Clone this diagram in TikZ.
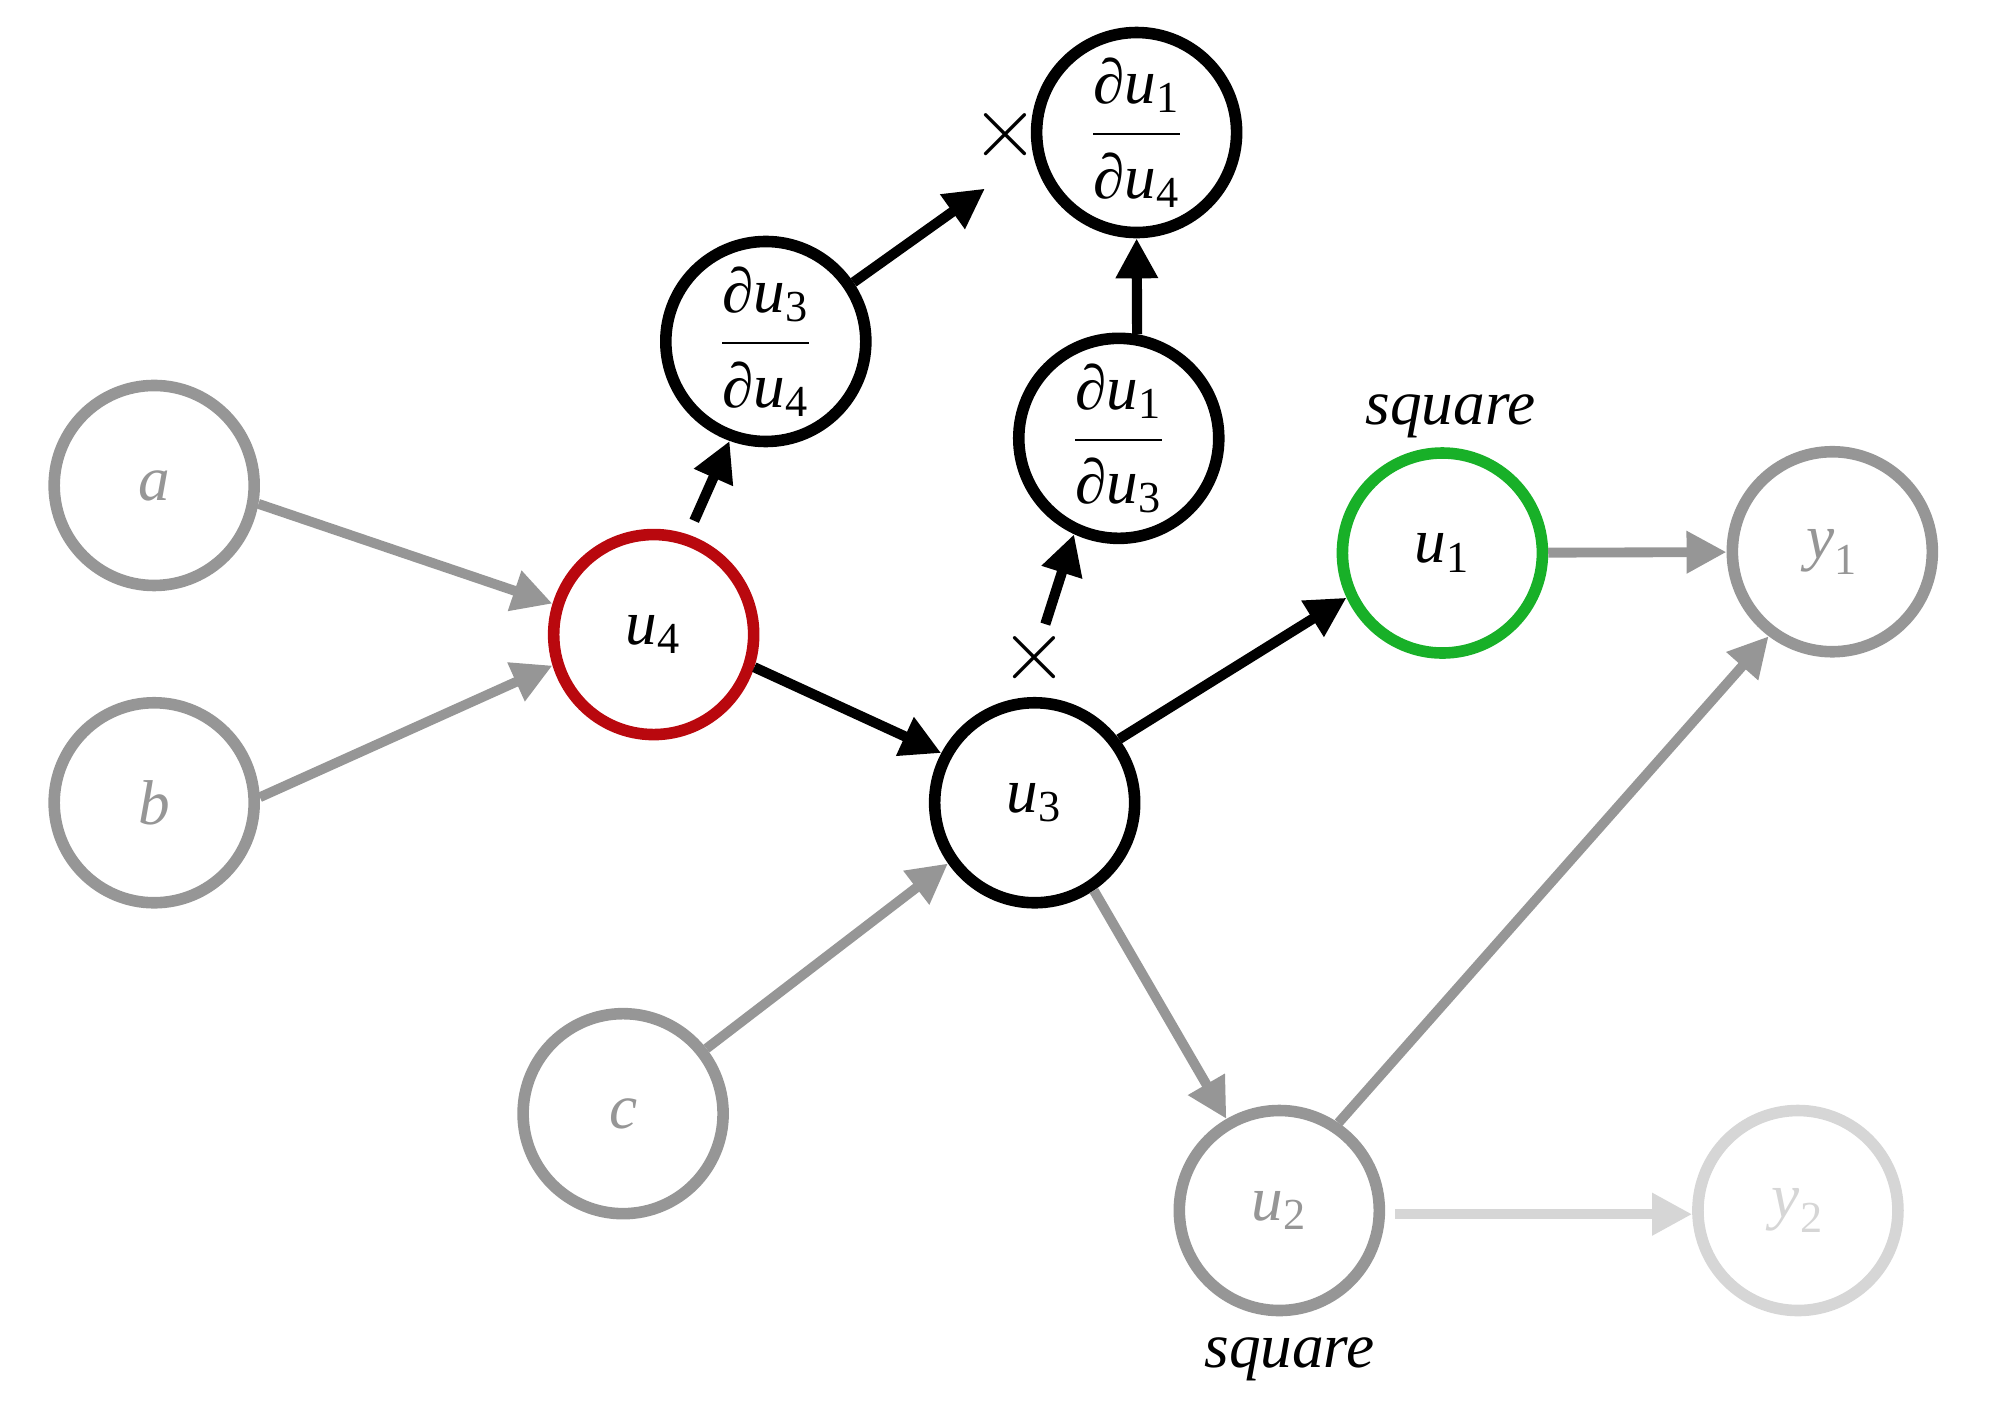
\documentclass[tikz,border=0pt]{standalone}
\usepackage{amsmath}
\usepackage{fontspec}
\setmainfont{Liberation Serif}
\usetikzlibrary{positioning,arrows.meta}

\definecolor{nodegray}{RGB}{150,150,150}
\definecolor{fadegray}{RGB}{214,214,214}
\definecolor{seedred}{RGB}{185,8,14}
\definecolor{outgreen}{RGB}{24,176,40}

% italic letter with upright index, all in the text font
\newcommand{\vsym}[2]{\ensuremath{\textit{#1}_{\text{#2}}}}
\newcommand{\pdsym}[2]{\ensuremath{\textit{∂}\vsym{#1}{#2}}}
\newcommand{\pdfrac}[2]{\ensuremath{\dfrac{\raisebox{1.4pt}{\pdsym{u}{#1}}}{\raisebox{-2pt}{\pdsym{u}{#2}}}}}

\begin{document}
\begin{tikzpicture}[
  x=0.012742cm, y=-0.012742cm,
  font=\fontsize{18}{22}\selectfont,
  >={Triangle[length=4mm,width=4mm]},
  var/.style={circle, draw=black, line width=3.3pt, minimum size=2cm, inner sep=0pt},
  gvar/.style={var, draw=nodegray, text=nodegray},
  fvar/.style={var, draw=fadegray, text=fadegray},
  rvar/.style={var, draw=seedred},
  okvar/.style={var, draw=outgreen},
  note/.style={font=\fontsize{18}{22}\selectfont\itshape, inner sep=0pt},
  mult/.style={inner sep=1pt, font=\fontsize{23}{26}\selectfont},
  barrow/.style={->, line width=2.9pt, black},
  garrow/.style={->, line width=2.8pt, nodegray},
  farrow/.style={->, line width=2.8pt, fadegray}
]
\useasboundingbox (0,0) rectangle (1568,1118);

% ---------- inputs ----------
\node[gvar] (a) at (121,381) {\textit{a}};
\node[gvar] (b) at (121,630) {\textit{b}};
\node[gvar] (c) at (489,874) {\textit{c}};

% ---------- intermediate ----------
\node[rvar]  (u4) at (513,498)  {\vsym{u}{4}};
\node[var]   (u3) at (812,630)  {\vsym{u}{3}};
\node[okvar] (u1) at (1132,434) {\vsym{u}{1}};
\node[gvar]  (u2) at (1004,950) {\vsym{u}{2}};

% ---------- outputs ----------
\node[gvar] (y1) at (1438,433) {\vsym{y}{1}};
\node[fvar] (y2) at (1411,950) {\vsym{y}{2}};

\node[note, above=0.9mm of u1, xshift=0.8mm] (sq1) {square};
\node[note, below=2.1mm of u2, xshift=1mm]   (sq2) {square};

% ---------- derivatives ----------
\node[var] (d34) at (601,268) {\pdfrac{3}{4}};
\node[var] (d13) at (878,344) {\pdfrac{1}{3}};
\node[var] (d14) at (892,104) {\pdfrac{1}{4}};

\node[mult] (times1) at (789,106) {$\times$};
\node[mult] (times2) at (812,516) {$\times$};
\coordinate (tip1) at (773,148);

% forward edges
\draw[garrow] (a.-10) -- (u4.163);
\draw[garrow] (b.3) -- (u4.197);
\draw[garrow] (c.38) -- (u3.215);
\draw[barrow] (u4.-18) -- (u3.152);
\draw[barrow] (u3.37) -- (u1.205);
\draw[garrow] (u3.-56) -- (u2.120);
\draw[garrow] (u1) -- (y1);
\draw[garrow] (u2.56) -- (y1.233);
\draw[farrow, shorten <=1mm] (u2.-2) -- (y2.182);

% chain rule
\draw[barrow, shorten <=1.5mm] (u4.71) -- (d34.250);
\draw[barrow] (d34.34) -- (tip1);
\draw[barrow] (times2) -- (d13.245);
\draw[barrow] (d13.80) -- (d14.south);

\end{tikzpicture}
\end{document}
